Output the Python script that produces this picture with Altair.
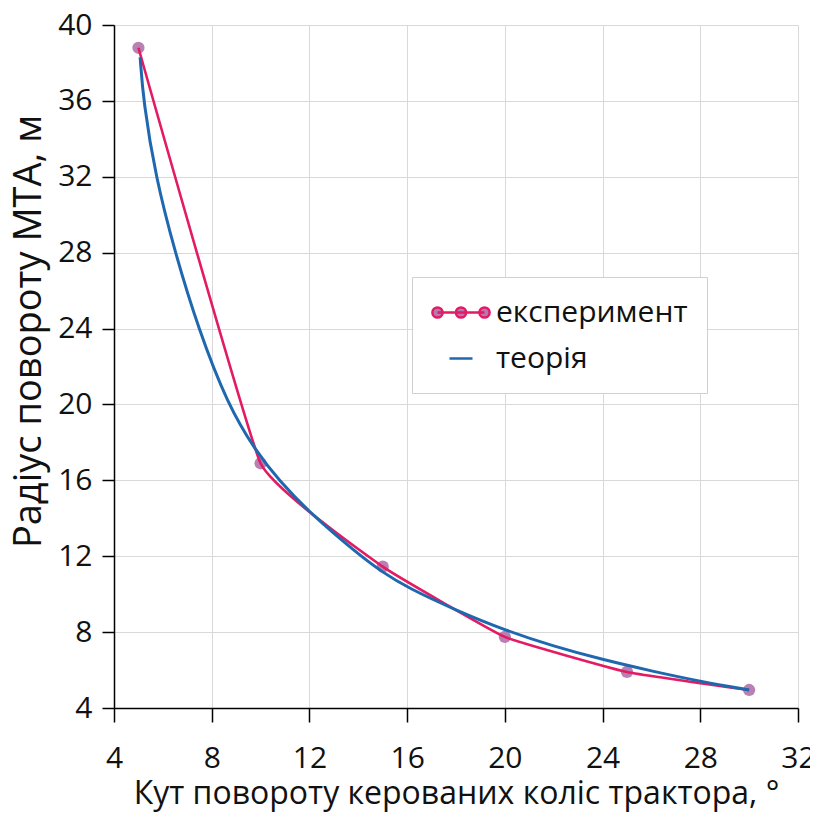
import altair as alt
import pandas as pd

# ---- data ----
series_names = ["експеримент", "теорія"]

exp_x = [5, 10, 15, 20, 25, 30]
exp_y = [38.8, 16.9, 11.45, 7.75, 5.9, 4.95]

theory_x = [5.07, 5.2, 5.7, 6.5, 7.45, 8.65, 9.8, 10.75, 12, 14, 15, 16, 18, 20, 22, 24, 26, 28, 30]
theory_y = [38.3, 36.0, 32.0, 28.0, 24.0, 20.0, 17.55, 16.0, 14.3, 12.1, 11.15, 10.35, 9.15, 8.1, 7.25, 6.55, 5.95, 5.4, 4.95]

x_ticks = [4, 8, 12, 16, 20, 24, 28, 32]
y_ticks = [4, 8, 12, 16, 20, 24, 28, 32, 36, 40]

x_title = "Кут повороту керованих коліс трактора, °"
y_title = "Радіус повороту МТА, м"

# ---- styles ----
RED = "#e31b63"
BLUE = "#1f68b0"
MARKER = "#b57aaf"
FONT = "Open Sans"

exp_df = pd.DataFrame({"x": exp_x, "y": exp_y, "series": series_names[0]})
th_df = pd.DataFrame({"x": theory_x, "y": theory_y, "series": series_names[1]})

x_enc = alt.X(
    "x:Q",
    scale=alt.Scale(domain=[4, 32], nice=False, zero=False),
    axis=alt.Axis(
        values=x_ticks, title=x_title, format="d",
        labelFont=FONT, labelFontSize=30, labelColor="#111111", labelPadding=21,
        titleFont=FONT, titleFontSize=32, titleFontWeight="normal", titleColor="#111111",
        titlePadding=5,
        domainColor="#000000", domainWidth=1.5, tickColor="#000000", tickWidth=1.5, tickSize=14,
        gridColor="#d9d9d9", gridWidth=1, labelFlush=False,
    ),
)
y_enc = alt.Y(
    "y:Q",
    scale=alt.Scale(domain=[4, 40], nice=False, zero=False),
    axis=alt.Axis(
        values=y_ticks, title=y_title, format="d",
        labelFont=FONT, labelFontSize=30, labelColor="#111111", labelPadding=10,
        titleFont=FONT, titleFontSize=38, titleFontWeight="normal", titleColor="#111111",
        titleAngle=270, titleX=-85, titleY=306, titleAlign="center", titleBaseline="middle",
        domainColor="#000000", domainWidth=1.5, tickColor="#000000", tickWidth=1.5, tickSize=12,
        gridColor="#d9d9d9", gridWidth=1, labelFlush=False,
    ),
)

# legend symbol paths (unit space, scaled by sqrt(size)/2)
def circ(cx, r):
    return f"M{cx - r},0A{r},{r} 0 1,0 {cx + r},0A{r},{r} 0 1,0 {cx - r},0Z"

exp_symbol = "M-0.667,0L2.467,0" + circ(-0.667, 0.34) + circ(0.9, 0.34) + circ(2.467, 0.34)
th_symbol = "M0.133,0L1.667,0"

is_exp = f"datum.value === '{series_names[0]}'"

color = alt.Color(
    "series:N",
    scale=alt.Scale(domain=series_names, range=[RED, BLUE]),
    legend=alt.Legend(
        title=None, orient="none", legendX=298, legendY=252,
        labelFont=FONT, labelFontSize=30, labelColor="#111111", labelLimit=600,
        symbolSize=900, labelOffset=32, rowPadding=14, padding=19,
        strokeColor="#d0d0d0", fillColor="#ffffff",
        symbolType=alt.ExprRef(expr=f"{is_exp} ? '{exp_symbol}' : '{th_symbol}'"),
        symbolFillColor=alt.ExprRef(expr=f"{is_exp} ? '{MARKER}' : 'transparent'"),
        symbolStrokeWidth=2.5, symbolOpacity=1,
    ),
)

points = alt.Chart(exp_df).mark_point(
    filled=True, size=150, color=MARKER, opacity=0.95
).encode(x=x_enc, y=y_enc)

exp_line = alt.Chart(exp_df).mark_line(
    interpolate="cardinal", tension=0.7, strokeWidth=2.6
).encode(x=x_enc, y=y_enc, color=color)

th_line = alt.Chart(th_df).mark_line(
    interpolate="basis", strokeWidth=3
).encode(x=x_enc, y=y_enc, color=color)

chart = (
    alt.layer(points, exp_line, th_line)
    .properties(
        width=684, height=683,
        autosize=alt.AutoSizeParams(type="none"),
        padding={"left": 106, "top": 17, "right": 12, "bottom": 105},
        background="#ffffff",
    )
    .configure_view(stroke=None)
)

chart.save("out.html", embed_options={"renderer": "svg", "actions": False})
